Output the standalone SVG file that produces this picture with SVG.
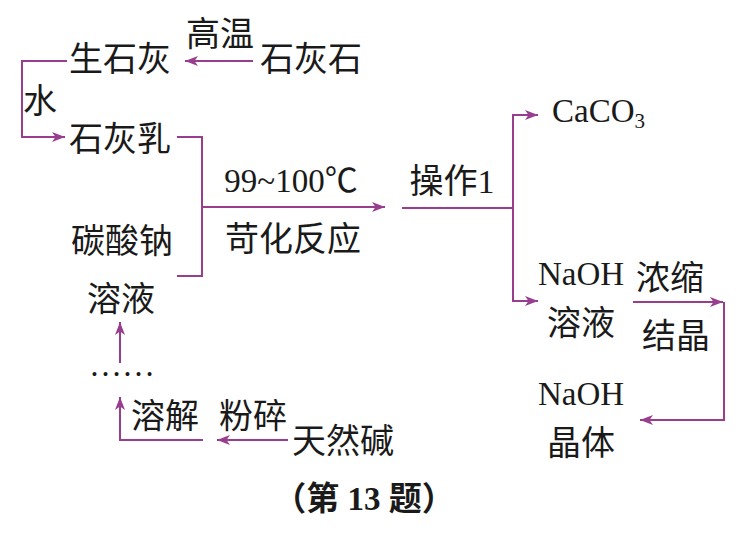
<svg xmlns="http://www.w3.org/2000/svg" width="753" height="538" viewBox="0 0 753 538">
<defs>
<style>
.t{font-family:"Liberation Serif","Noto Sans CJK SC",serif;font-size:33px;fill:#1a1a1a;text-anchor:middle}
.c{font-size:34px}
.b{font-weight:bold}
.ln{fill:none;stroke:#993d8f;stroke-width:2}
.ar{marker-end:url(#ah)}
</style>
<marker id="ah" markerUnits="userSpaceOnUse" markerWidth="14" markerHeight="10" refX="13" refY="5" orient="auto">
<path d="M0,0 L13,5 L0,10 L3.5,5 z" fill="#993d8f"/>
</marker>
</defs>
<rect width="753" height="538" fill="#ffffff"/>
<g id="connectors">
<path class="ln ar" d="M253,61 H185"/>
<path class="ln ar" d="M67,61 H22 V137 H65"/>
<path class="ln" d="M177,137 H202 V276 H177"/>
<path class="ln ar" d="M202,207 H385"/>
<path class="ln" d="M402,208 H513"/>
<path class="ln ar" d="M513,208 V115 H538"/>
<path class="ln ar" d="M513,208 V301 H538"/>
<path class="ln ar" d="M633,302 H723"/>
<path class="ln ar" d="M724,302 V420 H640"/>
<path class="ln ar" d="M120,363 V322"/>
<path class="ln ar" d="M203,440 H120 V397"/>
<path class="ln ar" d="M288,440 H217"/>
</g>
<g id="n-gaowen"><text class="t c" x="220" y="46">高温</text></g>
<g id="n-shenghui"><text class="t c" x="120" y="71">生石灰</text></g>
<g id="n-shihuishi"><text class="t c" x="311" y="71">石灰石</text></g>
<g id="n-shui"><text class="t c" x="40" y="113">水</text></g>
<g id="n-shihuiru"><text class="t c" x="120" y="151">石灰乳</text></g>
<g id="n-temp"><text class="t" x="291" y="192">99~100℃</text></g>
<g id="n-kehua"><text class="t c" x="293" y="251">苛化反应</text></g>
<g id="n-tansuanna"><text class="t c" x="122" y="253">碳酸钠</text><text class="t c" x="121" y="311">溶液</text></g>
<g id="n-caozuo"><text class="t c" x="452" y="193">操作1</text></g>
<g id="n-caco3"><text class="t" x="552" y="122" style="text-anchor:start">CaCO<tspan font-size="21" dy="6">3</tspan></text></g>
<g id="n-naoh-sol"><text class="t" x="581" y="285">NaOH</text><text class="t c" x="581" y="335">溶液</text></g>
<g id="n-nongsuo"><text class="t c" x="670" y="290">浓缩</text><text class="t c" x="676" y="348">结晶</text></g>
<g id="n-naoh-cry"><text class="t" x="581" y="405">NaOH</text><text class="t c" x="581" y="455">晶体</text></g>
<g id="n-dots"><text class="t" x="122" y="376">……</text></g>
<g id="n-rongjie"><text class="t c" x="165" y="428">溶解</text></g>
<g id="n-fensui"><text class="t c" x="253" y="428">粉碎</text></g>
<g id="n-tianranjian"><text class="t c" x="343" y="453">天然碱</text></g>
<g id="caption"><text class="t b" x="364" y="510">（第 13 题）</text></g>
</svg>
